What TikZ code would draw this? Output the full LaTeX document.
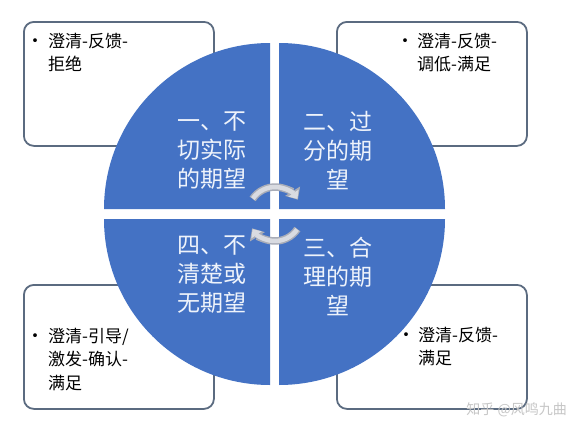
\documentclass[tikz,border=0pt]{standalone}
\usepackage{fontspec}
\setmainfont{Noto Sans CJK SC}
\usetikzlibrary{arrows.meta}
\definecolor{qblue}{HTML}{4472C4}
\definecolor{boxline}{HTML}{5B6B80}
\definecolor{qtext}{HTML}{EEF3FB}
\definecolor{arrowedge}{HTML}{A9ADB8}
\definecolor{arrowgray}{HTML}{D9DBE1}
\tikzset{
  infobox/.style={draw=boxline, line width=1.8pt, rounded corners=10pt, fill=white,
    minimum width=190pt, minimum height=124pt, anchor=north west, inner sep=0pt},
  boxtext/.style={font=\fontsize{17}{23.5}\selectfont, align=left, anchor=north west, inner sep=0pt, text=black},
  bulletmark/.style={font=\fontsize{18}{24}\selectfont, inner sep=0pt, text=black},
  quadtext/.style={font=\fontsize{23}{29}\selectfont, align=center, text=qtext, inner sep=0pt},
  quad/.style={fill=qblue},
  arrowouter/.style={draw=arrowedge, line width=7.5pt, -{Triangle[width=17pt,length=10pt]}},
  arrowinner/.style={draw=arrowgray, line width=4.5pt, -{Triangle[width=12pt,length=7pt]}},
  watermark/.style={font=\fontsize{14}{16}\selectfont, text=gray!45, inner sep=0pt}
}
\begin{document}
\begin{tikzpicture}[x=1pt,y=-1pt]
\useasboundingbox (0,0) rectangle (581,434);
\fill[white] (0,0) rectangle (581,434);
% boxes
\node[infobox] (b1) at (23,21) {};
\node[infobox] (b2) at (336,21) {};
\node[infobox] (b4) at (23,284) {};
\node[infobox] (b3) at (336,284) {};
% quadrants
\fill[quad] (270,209) -- (104,209) arc[start angle=180,end angle=270,radius=166] -- cycle;
\fill[quad] (279,209) -- (279,43) arc[start angle=270,end angle=360,radius=166] -- cycle;
\fill[quad] (279,219) -- (445,219) arc[start angle=0,end angle=90,radius=166] -- cycle;
\fill[quad] (270,219) -- (270,385) arc[start angle=90,end angle=180,radius=166] -- cycle;
% quadrant texts
\node[quadtext] (q1) at (212,151) {一、不\\切实际\\的期望};
\node[quadtext] (q2) at (338,151) {二、过\\分的期\\望};
\node[quadtext] (q3) at (338,276) {三、合\\理的期\\望};
\node[quadtext] (q4) at (212,275) {四、不\\清楚或\\无期望};
% box texts
\node[bulletmark] (d1) at (36,43) {•};
\node[boxtext] (t1) at (48,33) {澄清-反馈-\\拒绝};
\node[bulletmark] (d2) at (405,43) {•};
\node[boxtext] (t2) at (417,33) {澄清-反馈-\\调低-满足};
\node[bulletmark] (d4) at (36,338) {•};
\node[boxtext] (t4) at (48,328) {澄清-引导/\\激发-确认-\\满足};
\node[bulletmark] (d3) at (406,337) {•};
\node[boxtext] (t3) at (418,327) {澄清-反馈-\\满足};
% cycle arrows
\coordinate (c) at (275,214);
\draw[arrowouter] ([shift={(214:27)}]c) arc[start angle=214,end angle=328,radius=27];
\draw[arrowinner] ([shift={(215:27)}]c) arc[start angle=215,end angle=326,radius=27];
\draw[arrowouter] ([shift={(34:27)}]c) arc[start angle=34,end angle=148,radius=27];
\draw[arrowinner] ([shift={(35:27)}]c) arc[start angle=35,end angle=146,radius=27];
% watermark
\node[watermark, anchor=east] (wm) at (567,410) {知乎 @风鸣九曲};
\end{tikzpicture}
\end{document}
